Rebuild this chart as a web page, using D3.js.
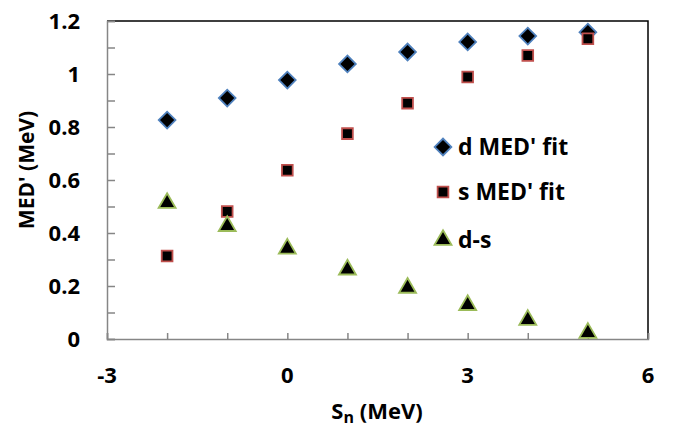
<!DOCTYPE html>
<html>
<head>
<meta charset="utf-8">
<script src="https://cdn.jsdelivr.net/npm/d3@7"></script>
<style>
  body { margin: 0; background: #fff; }
  text { font-family: "Open Sans", sans-serif; font-weight: bold; fill: #000; }
</style>
</head>
<body>
<div id="chart"></div>
<script>
const sn = [-2, -1, 0, 1, 2, 3, 4, 5];
const dMed = [0.826, 0.909, 0.977, 1.038, 1.083, 1.121, 1.143, 1.158];
const sMed = [0.313, 0.481, 0.637, 0.775, 0.890, 0.989, 1.070, 1.133];
const dMinusS = [0.513, 0.426, 0.341, 0.262, 0.193, 0.128, 0.072, 0.023];
const xTicks = [-3, 0, 3, 6];
const yTicks = [0, 0.2, 0.4, 0.6, 0.8, 1, 1.2];

const width = 678, height = 431;
const margin = {top: 21, right: 30, bottom: 92, left: 107};

const svg = d3.select('#chart').append('svg')
    .attr('width', width)
    .attr('height', height);

const x = d3.scaleLinear().domain([-3, 6]).range([margin.left, width - margin.right]);
const y = d3.scaleLinear().domain([0, 1.2]).range([height - margin.bottom, margin.top]);

const axisGray = '#868686';

// frame: top and right in black
svg.append('path')
    .attr('d', `M${x(-3)},${y(1.2)}H${x(6)}V${y(0)}`)
    .attr('fill', 'none')
    .attr('stroke', '#000')
    .attr('stroke-width', 1.5);

// y axis (ticks pointing inward)
const yAxis = d3.axisRight(y)
    .tickValues(d3.range(0, 1.21, 0.1))
    .tickSize(8)
    .tickFormat('');
svg.append('g')
    .attr('transform', `translate(${x(-3)},0)`)
    .call(yAxis)
    .call(g => g.select('.domain').attr('stroke', axisGray).attr('stroke-width', 1.5))
    .call(g => g.selectAll('.tick line').attr('stroke', axisGray).attr('stroke-width', 1.5));

// x axis (ticks pointing inward)
const xAxis = d3.axisTop(x)
    .tickValues(d3.range(-3, 6.1, 1))
    .tickSize(6)
    .tickFormat('');
svg.append('g')
    .attr('transform', `translate(0,${y(0)})`)
    .call(xAxis)
    .call(g => g.select('.domain').attr('stroke', axisGray).attr('stroke-width', 1.5))
    .call(g => g.selectAll('.tick line').attr('stroke', axisGray).attr('stroke-width', 1.5));

// tick labels
svg.append('g').selectAll('text')
    .data(yTicks).enter().append('text')
    .attr('x', 80)
    .attr('y', d => y(d))
    .attr('dy', '0.36em')
    .attr('text-anchor', 'end')
    .style('font-size', '22px')
    .text(d => d3.format('')(d));

svg.append('g').selectAll('text')
    .data(xTicks).enter().append('text')
    .attr('x', d => x(d))
    .attr('y', 383)
    .attr('text-anchor', 'middle')
    .style('font-size', '22px')
    .text(d => d);

// axis titles
svg.append('text')
    .attr('transform', 'translate(34,170) rotate(-90)')
    .attr('text-anchor', 'middle')
    .style('font-size', '21px')
    .text("MED' (MeV)");

const xt = svg.append('text')
    .attr('x', 377)
    .attr('y', 419)
    .attr('text-anchor', 'middle')
    .style('font-size', '22px');
xt.append('tspan').text('S');
xt.append('tspan').attr('dy', 4).style('font-size', '16px').text('n');
xt.append('tspan').attr('dy', -4).text(' (MeV)');

// markers
const diamond = d3.symbol().type(d3.symbolSquare).size(140);
const square = d3.symbol().type(d3.symbolSquare).size(115);
const triangle = d3.symbol().type(d3.symbolTriangle).size(125);

const series = [
    {name: "d MED' fit", values: dMed, sym: diamond, rot: 45, stroke: '#4f81bd'},
    {name: "s MED' fit", values: sMed, sym: square, rot: 0, stroke: '#c0504d'},
    {name: 'd-s', values: dMinusS, sym: triangle, rot: 0, stroke: '#9bbb59'}
];

series.forEach(s => {
    svg.append('g').selectAll('path')
        .data(s.values).enter().append('path')
        .attr('d', s.sym)
        .attr('transform', (d, i) => `translate(${x(sn[i])},${y(d)}) rotate(${s.rot})`)
        .attr('fill', '#000')
        .attr('stroke', s.stroke)
        .attr('stroke-width', 1.8);
});

// legend
const legend = svg.append('g').selectAll('g')
    .data(series).enter().append('g')
    .attr('transform', (d, i) => `translate(443,${[147, 192, 240][i]})`);

legend.append('path')
    .attr('d', d => d.sym())
    .attr('transform', d => `rotate(${d.rot})`)
    .attr('fill', '#000')
    .attr('stroke', d => d.stroke)
    .attr('stroke-width', 1.8);

legend.append('text')
    .attr('x', 15)
    .attr('dy', '0.36em')
    .style('font-size', '23px')
    .text(d => d.name);
</script>
</body>
</html>
